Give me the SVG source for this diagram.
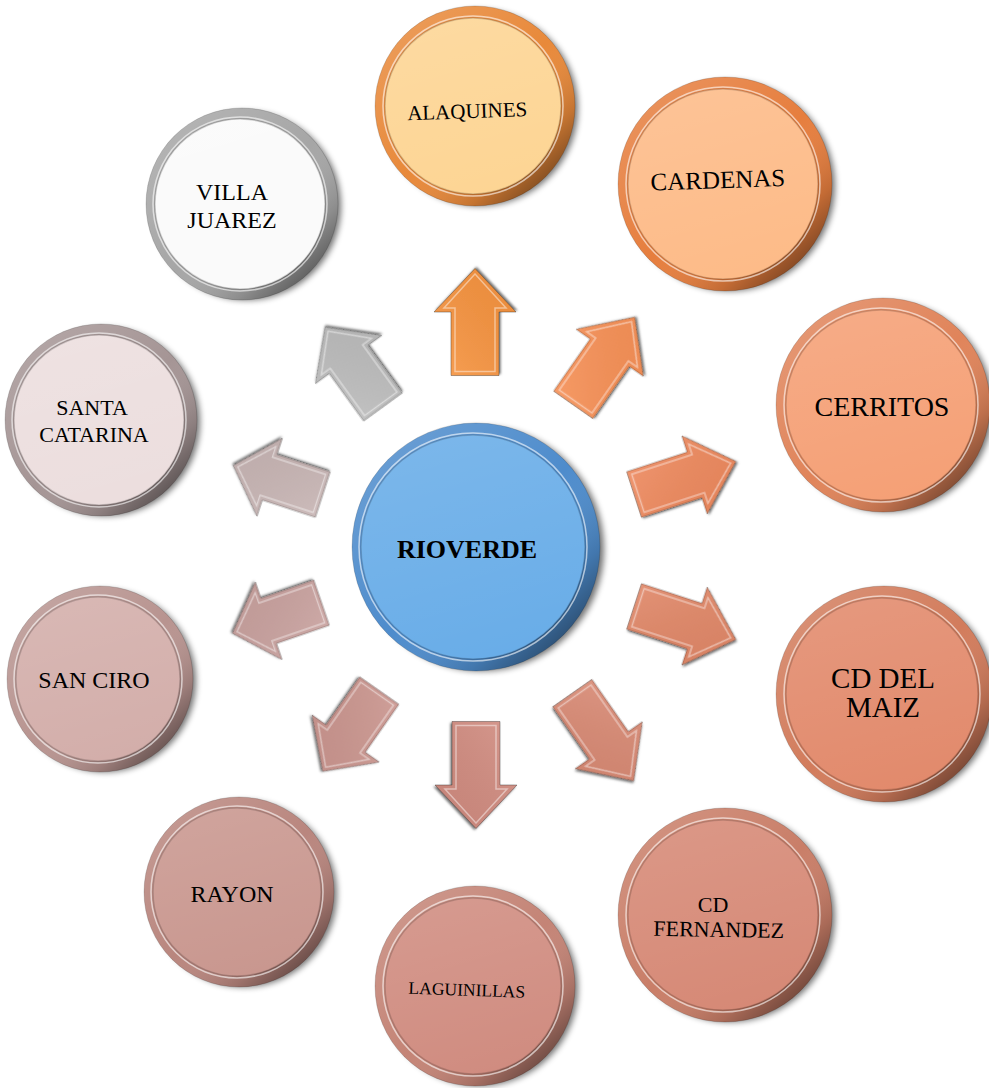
<svg xmlns="http://www.w3.org/2000/svg" xmlns:xlink="http://www.w3.org/1999/xlink" width="989" height="1088" viewBox="0 0 989 1088">
<defs>
  <filter id="blur" x="-20%" y="-20%" width="140%" height="140%"><feGaussianBlur stdDeviation="3"/></filter>
  <filter id="ash" x="-20%" y="-20%" width="140%" height="140%"><feDropShadow dx="1.5" dy="1.5" stdDeviation="1" flood-color="#000" flood-opacity="0.55"/></filter>
  <linearGradient id="rimShade" x1="0.15" y1="0.1" x2="0.9" y2="0.9">
    <stop offset="0" stop-color="#fff" stop-opacity="0.15"/>
    <stop offset="0.5" stop-color="#fff" stop-opacity="0"/>
    <stop offset="0.8" stop-color="#000" stop-opacity="0.15"/>
    <stop offset="1" stop-color="#000" stop-opacity="0.5"/>
  </linearGradient>
  <linearGradient id="faceShade" x1="0.3" y1="0" x2="0.6" y2="1">
    <stop offset="0" stop-color="#fff" stop-opacity="0.12"/>
    <stop offset="1" stop-color="#fff" stop-opacity="0"/>
  </linearGradient>
  <linearGradient id="arrShade" x1="0" y1="0" x2="1" y2="1">
    <stop offset="0" stop-color="#fff" stop-opacity="0.12"/>
    <stop offset="1" stop-color="#000" stop-opacity="0.05"/>
  </linearGradient>
  <g id="arrow">
    <path d="M-53.5,-24 H10 V-41 L53.5,0 L10,41 V24 H-53.5 Z" stroke="#000" stroke-opacity="0.3" stroke-width="1"/>
    <path d="M-53.5,-24 H10 V-41 L53.5,0 L10,41 V24 H-53.5 Z" fill="url(#arrShade)"/>
    <path d="M-49.5,-20 H14 V-31 L48,0 L14,31 V20 H-49.5 Z" fill="none" stroke="#fff" stroke-opacity="0.45" stroke-width="1.5"/>
  </g>
  <style>
    .lbl { font-family: "Liberation Serif", "Times New Roman", serif; fill: #000; text-anchor: middle; }
    .shadow { fill: #000; opacity: 0.55; filter: url(#blur); }
    .hl { fill: none; stroke: #fff; stroke-opacity: 0.6; stroke-width: 1.5; }
    .edge { fill: none; stroke: #000; stroke-opacity: 0.15; stroke-width: 1.5; }
    .outer { stroke: #000; stroke-opacity: 0.15; stroke-width: 1; }
  </style>
</defs>
<rect width="989" height="1088" fill="#fff"/>

<g id="connectors">
  <use xlink:href="#arrow" fill="#f8943f" filter="url(#ash)" transform="translate(475,322) rotate(-90)"/>
  <use xlink:href="#arrow" fill="#f99156" filter="url(#ash)" transform="translate(604,361) rotate(-55)"/>
  <use xlink:href="#arrow" fill="#f08a5e" filter="url(#ash)" transform="translate(685,478) rotate(-18)"/>
  <use xlink:href="#arrow" fill="#e38868" filter="url(#ash)" transform="translate(685,623) rotate(18)"/>
  <use xlink:href="#arrow" fill="#da8a74" filter="url(#ash)" transform="translate(603,737) rotate(55)"/>
  <use xlink:href="#arrow" fill="#d28c80" filter="url(#ash)" transform="translate(476,775) rotate(90)"/>
  <use xlink:href="#arrow" fill="#cc968f" filter="url(#ash)" transform="translate(351,731) rotate(125) scale(0.92,1)"/>
  <use xlink:href="#arrow" fill="#caa29f" filter="url(#ash)" transform="translate(277,618) rotate(161) scale(0.88,1)"/>
  <use xlink:href="#arrow" fill="#c9b6b5" filter="url(#ash)" transform="translate(278,480) rotate(-162) scale(0.88,1)"/>
  <use xlink:href="#arrow" fill="#bdbdbd" filter="url(#ash)" transform="translate(354,367) rotate(-126) scale(0.92,1)"/>
</g>

<g id="n-rioverde" transform="translate(476,547)">
  <circle class="shadow" cx="6" cy="2" r="122"/>
  <circle r="124" fill="#4e8ccc" class="outer"/>
  <circle r="124" fill="url(#rimShade)"/>
  <circle cx="-3" r="114" class="hl"/>
  <circle cx="-3" r="112" fill="#69ade8"/>
  <circle cx="-3" r="112" fill="url(#faceShade)"/>
  <circle cx="-3" r="112" class="edge"/>
  <text class="lbl" x="-9" y="11" font-size="26" font-weight="bold">RIOVERDE</text>
</g>

<g id="n-alaquines" transform="translate(475,106)">
  <circle class="shadow" cx="5" cy="2" r="98"/>
  <circle r="100" fill="#e8893a" class="outer"/>
  <circle r="100" fill="url(#rimShade)"/>
  <circle cx="-2" r="90" class="hl"/>
  <circle cx="-2" r="88" fill="#fdd594"/>
  <circle cx="-2" r="88" fill="url(#faceShade)"/>
  <circle cx="-2" r="88" class="edge"/>
  <text class="lbl" x="-8" y="12" font-size="21" transform="rotate(-2)">ALAQUINES</text>
</g>

<g id="n-cardenas" transform="translate(725,184)">
  <circle class="shadow" cx="5" cy="2" r="105"/>
  <circle r="107" fill="#e67e3e" class="outer"/>
  <circle r="107" fill="url(#rimShade)"/>
  <circle cx="-2" r="97" class="hl"/>
  <circle cx="-2" r="95" fill="#fdbb88"/>
  <circle cx="-2" r="95" fill="url(#faceShade)"/>
  <circle cx="-2" r="95" class="edge"/>
  <text class="lbl" x="-7" y="4" font-size="25" transform="rotate(-2)">CARDENAS</text>
</g>

<g id="n-cerritos" transform="translate(883,405)">
  <circle class="shadow" cx="5" cy="2" r="105"/>
  <circle r="107" fill="#e0845a" class="outer"/>
  <circle r="107" fill="url(#rimShade)"/>
  <circle cx="-2" r="97" class="hl"/>
  <circle cx="-2" r="95" fill="#f5a076"/>
  <circle cx="-2" r="95" fill="url(#faceShade)"/>
  <circle cx="-2" r="95" class="edge"/>
  <text class="lbl" x="-1" y="11" font-size="28">CERRITOS</text>
</g>

<g id="n-cddelmaiz" transform="translate(884,694)">
  <circle class="shadow" cx="5" cy="2" r="106"/>
  <circle r="108" fill="#d27c5c" class="outer"/>
  <circle r="108" fill="url(#rimShade)"/>
  <circle cx="-2" r="98" class="hl"/>
  <circle cx="-2" r="96" fill="#e28a6c"/>
  <circle cx="-2" r="96" fill="url(#faceShade)"/>
  <circle cx="-2" r="96" class="edge"/>
  <text class="lbl" x="-1" y="-6" font-size="29">CD DEL</text>
  <text class="lbl" x="-1" y="23" font-size="29">MAIZ</text>
</g>

<g id="n-cdfernandez" transform="translate(725,915)">
  <circle class="shadow" cx="5" cy="2" r="105"/>
  <circle r="107" fill="#c97e68" class="outer"/>
  <circle r="107" fill="url(#rimShade)"/>
  <circle cx="-2" r="97" class="hl"/>
  <circle cx="-2" r="95" fill="#d68976"/>
  <circle cx="-2" r="95" fill="url(#faceShade)"/>
  <circle cx="-2" r="95" class="edge"/>
  <text class="lbl" x="-12" y="-3" font-size="22">CD</text>
  <text class="lbl" x="-6" y="22" font-size="22" transform="rotate(1)">FERNANDEZ</text>
</g>

<g id="n-laguinillas" transform="translate(475,986)">
  <circle class="shadow" cx="5" cy="2" r="98"/>
  <circle r="100" fill="#c48476" class="outer"/>
  <circle r="100" fill="url(#rimShade)"/>
  <circle cx="-2" r="90" class="hl"/>
  <circle cx="-2" r="88" fill="#d08c80"/>
  <circle cx="-2" r="88" fill="url(#faceShade)"/>
  <circle cx="-2" r="88" class="edge"/>
  <text class="lbl" x="-8" y="10" font-size="17.5" transform="rotate(2)">LAGUINILLAS</text>
</g>

<g id="n-rayon" transform="translate(239,892)">
  <circle class="shadow" cx="5" cy="2" r="93"/>
  <circle r="95" fill="#b9867e" class="outer"/>
  <circle r="95" fill="url(#rimShade)"/>
  <circle cx="-2" r="86" class="hl"/>
  <circle cx="-2" r="84" fill="#c9978f"/>
  <circle cx="-2" r="84" fill="url(#faceShade)"/>
  <circle cx="-2" r="84" class="edge"/>
  <text class="lbl" x="-7" y="10" font-size="24">RAYON</text>
</g>

<g id="n-sanciro" transform="translate(100,679)">
  <circle class="shadow" cx="5" cy="2" r="91"/>
  <circle r="93" fill="#b89490" class="outer"/>
  <circle r="93" fill="url(#rimShade)"/>
  <circle cx="-2" r="84" class="hl"/>
  <circle cx="-2" r="82" fill="#d3aeaa"/>
  <circle cx="-2" r="82" fill="url(#faceShade)"/>
  <circle cx="-2" r="82" class="edge"/>
  <text class="lbl" x="-6" y="9" font-size="24">SAN CIRO</text>
</g>

<g id="n-santacatarina" transform="translate(101,420)">
  <circle class="shadow" cx="5" cy="2" r="94"/>
  <circle r="96" fill="#a59595" class="outer"/>
  <circle r="96" fill="url(#rimShade)"/>
  <circle cx="-2" r="87" class="hl"/>
  <circle cx="-2" r="85" fill="#ecdede"/>
  <circle cx="-2" r="85" fill="url(#faceShade)"/>
  <circle cx="-2" r="85" class="edge"/>
  <text class="lbl" x="-9" y="-5" font-size="22">SANTA</text>
  <text class="lbl" x="-7" y="22" font-size="22">CATARINA</text>
</g>

<g id="n-villajuarez" transform="translate(242,204)">
  <circle class="shadow" cx="5" cy="2" r="94"/>
  <circle r="96" fill="#a6a6a6" class="outer"/>
  <circle r="96" fill="url(#rimShade)"/>
  <circle cx="-2" r="87" class="hl"/>
  <circle cx="-2" r="85" fill="#fafafa"/>
  <circle cx="-2" r="85" fill="url(#faceShade)"/>
  <circle cx="-2" r="85" class="edge"/>
  <text class="lbl" x="-10" y="-4" font-size="24">VILLA</text>
  <text class="lbl" x="-10" y="24" font-size="24">JUAREZ</text>
</g>
</svg>
